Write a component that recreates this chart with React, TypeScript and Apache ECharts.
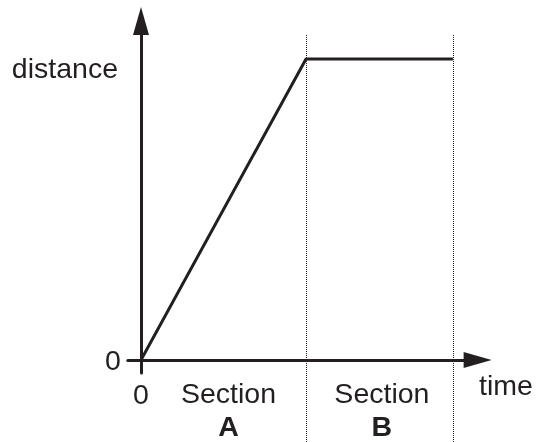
import React, { useEffect, useRef } from 'react';
import * as echarts from 'echarts';

const timePoints = [0, 5, 9.45];
const distancePoints = [0, 10, 10];
const sectionBoundaries = [5, 9.45];
const sectionNames = ['A', 'B'];
const sectionWord = 'Section';
const sectionLabelPositions = [2.65, 7.3];
const xTickValues = [0];
const yTickValues = [0];
const xAxisTitle = 'time';
const yAxisTitle = 'distance';

const INK = '#231f20';
const FONT = '"Liberation Sans", Arial, Helvetica, sans-serif';
const FS = 28.5;

export default function App() {
  const ref = useRef<HTMLDivElement>(null);
  useEffect(() => {
    if (!ref.current) return;
    const chart = echarts.init(ref.current, null, { renderer: 'svg' });
    const xMin = -0.4;
    const xMax = 10.2;
    const lineData = timePoints.map((t, i) => [t, distancePoints[i]]);
    const xLabelValues = [...xTickValues, ...sectionLabelPositions];
    chart.setOption({
      animation: false,
      grid: [
        { left: 127.8, right: 59.4, top: 21, bottom: 69.1, containLabel: false, outerBoundsMode: 'none' },
        { left: 127.8, right: 59.4, top: 35, bottom: 0, containLabel: false, outerBoundsMode: 'none' },
      ],
      xAxis: [
        {
          type: 'value',
          gridIndex: 0,
          min: xMin,
          max: xMax,
          splitLine: { show: false },
          axisTick: { show: false },
          axisLine: {
            show: true,
            symbol: ['none', 'triangle'],
            symbolSize: [16, 28],
            lineStyle: { color: INK, width: 3 },
          },
          axisLabel: {
            customValues: xLabelValues,
            margin: 1.6,
            color: INK,
            fontFamily: FONT,
            fontSize: FS,
            hideOverlap: false,
            formatter: (v: number) => {
              if (xTickValues.some((t) => Math.abs(t - v) < 1e-6)) return `{z|${v}}`;
              let idx = 0;
              let best = Infinity;
              sectionLabelPositions.forEach((p, i) => {
                const d = Math.abs(p - v);
                if (d < best) { best = d; idx = i; }
              });
              return `{n|${sectionWord}}\n{b|${sectionNames[idx]}}`;
            },
            rich: {
              z: { fontSize: FS, fontFamily: FONT, color: INK, lineHeight: 38 },
              n: { fontSize: FS, fontFamily: FONT, color: INK, lineHeight: 37 },
              b: { fontSize: FS, fontFamily: FONT, color: INK, fontWeight: 'bold', lineHeight: 28.5 },
            },
          },
        },
        { type: 'value', gridIndex: 1, min: xMin, max: xMax, show: false },
      ],
      yAxis: [
        {
          type: 'value',
          gridIndex: 0,
          min: -0.43,
          max: 11.26,
          splitLine: { show: false },
          axisTick: { show: false },
          axisLine: {
            show: true,
            symbol: ['none', 'triangle'],
            symbolSize: [16, 28],
            lineStyle: { color: INK, width: 3 },
          },
          axisLabel: {
            customValues: yTickValues,
            margin: 7,
            color: INK,
            fontFamily: FONT,
            fontSize: FS,
          },
        },
        { type: 'value', gridIndex: 1, min: 0, max: 1, show: false },
      ],
      graphic: [
        {
          type: 'text',
          x: 118,
          y: 68,
          style: { text: yAxisTitle, fill: INK, font: `${FS}px ${FONT}`, align: 'right', verticalAlign: 'middle' },
        },
        {
          type: 'text',
          x: 479,
          y: 385,
          style: { text: xAxisTitle, fill: INK, font: `${FS}px ${FONT}`, align: 'left', verticalAlign: 'middle' },
        },
      ],
      series: [
        {
          type: 'line',
          xAxisIndex: 0,
          yAxisIndex: 0,
          data: lineData,
          symbol: 'none',
          lineStyle: { color: INK, width: 3 },
          z: 3,
        },
        {
          type: 'line',
          xAxisIndex: 1,
          yAxisIndex: 1,
          data: [],
          markLine: {
            silent: true,
            symbol: ['none', 'none'],
            label: { show: false },
            lineStyle: { color: INK, width: 1, type: 'dotted' },
            data: sectionBoundaries.map((b) => ({ xAxis: b })),
          },
        },
      ],
    });
    return () => chart.dispose();
  }, []);
  return <div ref={ref} style={{ position: 'fixed', left: 0, top: 0, width: 537, height: 442 }} />;
}
